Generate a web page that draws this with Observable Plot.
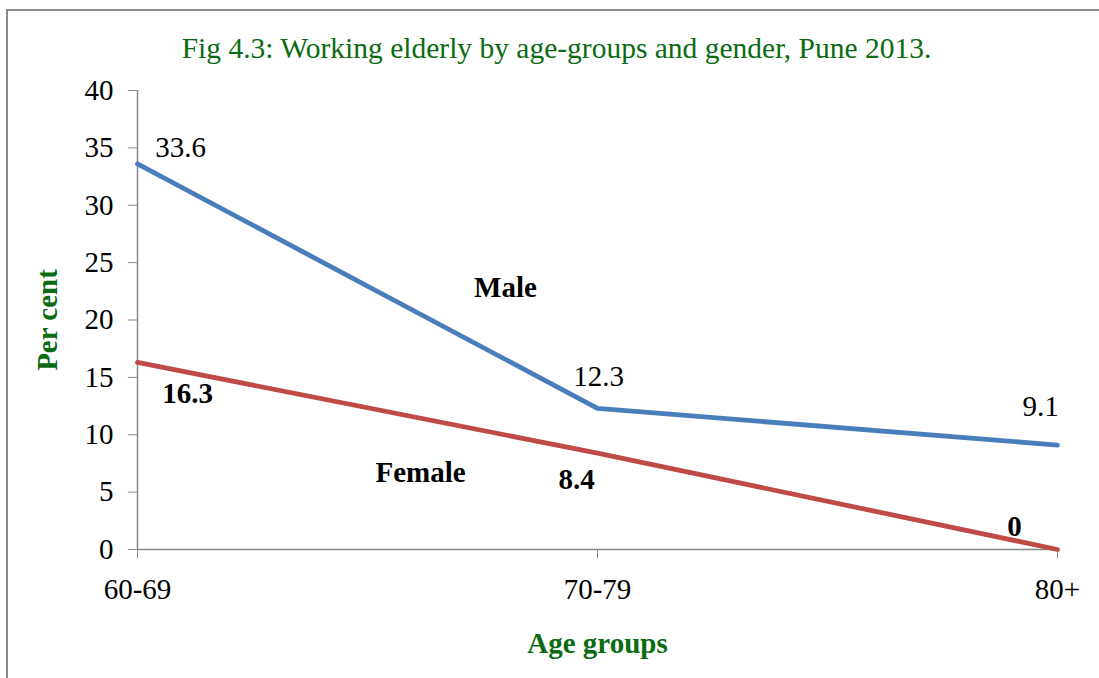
<!DOCTYPE html>
<html>
<head>
<meta charset="utf-8">
<script src="https://cdn.jsdelivr.net/npm/d3@7"></script>
<script src="https://cdn.jsdelivr.net/npm/@observablehq/plot@0.6"></script>
<style>
  html, body { margin: 0; padding: 0; background: #fff; overflow: hidden; }
  #wrap { position: relative; width: 1099px; height: 678px; }
  #border { position: absolute; left: 6px; top: 9px; width: 1100px; height: 680px; border: 2px solid #8a8a8a; box-sizing: border-box; }
  #chart { position: absolute; left: 0; top: 0; }
</style>
</head>
<body>
<div id="wrap"><div id="border"></div><div id="chart"></div></div>
<script>
const ageGroups = ["60-69", "70-79", "80+"];
const male = [33.6, 12.3, 9.1];
const female = [16.3, 8.4, 0];
const yTicks = [0, 5, 10, 15, 20, 25, 30, 35, 40];
const title = "Fig 4.3: Working elderly by age-groups and gender, Pune 2013.";
const xLabel = "Age groups";
const yLabel = "Per cent";

const data = [
  ...ageGroups.map((g, i) => ({group: g, value: male[i], series: "Male"})),
  ...ageGroups.map((g, i) => ({group: g, value: female[i], series: "Female"}))
];
const fmt = d => String(d.value);
const pick = (s, g) => data.filter(d => d.series === s && d.group === g);

const FONT = "'Liberation Serif', 'Times New Roman', serif";
const FS = 29;
const GREEN = "#0b6b12";
const BLUE = "#4a7ebb";
const RED = "#be4b48";

const lbl = (s, g, dx, dy, bold) => Plot.text(pick(s, g), {
  x: "group", y: "value", text: fmt, dx, dy,
  fontSize: FS, fontWeight: bold ? "bold" : "normal", fill: "black"
});

const chart = Plot.plot({
  width: 1099,
  height: 678,
  marginLeft: 137,
  marginRight: 42,
  marginTop: 90,
  marginBottom: 129,
  style: {fontFamily: FONT, fontSize: FS + "px", background: "transparent", overflow: "visible"},
  x: {type: "point", domain: ageGroups, padding: 0, label: null},
  y: {domain: [0, 40], label: null},
  marks: [
    Plot.ruleX([ageGroups[0]], {y1: 0, y2: 40, stroke: "#888", strokeWidth: 1.5}),
    Plot.ruleY([0], {stroke: "#888", strokeWidth: 1.5}),
    Plot.axisY(yTicks, {tickSize: 9, tickPadding: 15, stroke: "#888", fill: "black", fontSize: FS, label: null}),
    Plot.axisX(ageGroups, {tickSize: 9, tickPadding: 20, stroke: "#888", fill: "black", fontSize: FS, label: null}),
    Plot.line(data, {x: "group", y: "value", z: "series",
      stroke: d => d.series === "Male" ? BLUE : RED, strokeWidth: 4.8, strokeLinejoin: "miter"}),
    lbl("Male", "60-69", 43, -16, false),
    lbl("Male", "70-79", 1, -32, false),
    lbl("Male", "80+", -17, -38, false),
    lbl("Female", "60-69", 50, 31, true),
    lbl("Female", "70-79", -21, 27, true),
    lbl("Female", "80+", -43, -23, true),
    Plot.text(pick("Male", "70-79"), {x: "group", y: "value", text: d => d.series,
      dx: -92, dy: -121, fontSize: FS, fontWeight: "bold", fill: "black"}),
    Plot.text(pick("Female", "70-79"), {x: "group", y: "value", text: d => d.series,
      dx: -177, dy: 20, fontSize: FS, fontWeight: "bold", fill: "black"}),
    Plot.text([title], {frameAnchor: "top", dx: -41, dy: -42, lineAnchor: "middle",
      textAnchor: "middle", fontSize: FS + 0.5, fill: GREEN}),
    Plot.text([yLabel], {frameAnchor: "left", dx: -90, rotate: -90, lineAnchor: "middle",
      textAnchor: "middle", fontSize: FS, fontWeight: "bold", fill: GREEN}),
    Plot.text([xLabel], {frameAnchor: "bottom", dy: 94, lineAnchor: "middle",
      textAnchor: "middle", fontSize: FS, fontWeight: "bold", fill: GREEN})
  ]
});
document.getElementById("chart").appendChild(chart);
</script>
</body>
</html>
